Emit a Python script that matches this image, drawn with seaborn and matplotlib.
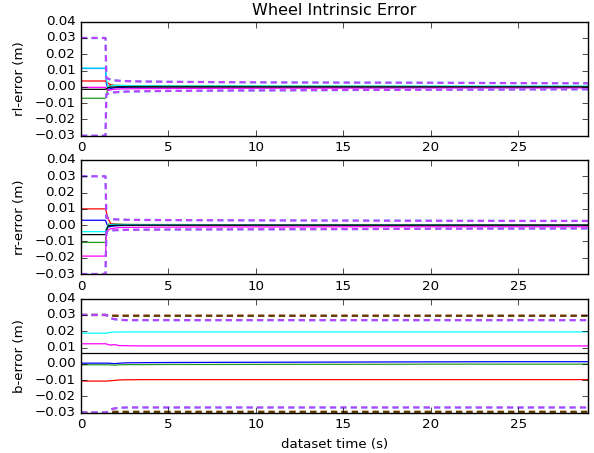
import matplotlib
matplotlib.use('Agg')
import matplotlib.pyplot as plt
import seaborn as sns

# %%
# data (time in s, errors in m)
time_s = [0, 1.40, 1.45, 1.55, 1.70, 1.90, 2.20, 2.60, 3.50, 5.0, 8.0, 12.0, 16.0, 20.0, 25.0, 29.0]

rl_blue = [0.0113, 0.0113, 0.0020, -0.0015, -0.0010, -0.0006, -0.0004, -0.0002, -0.0001, 0.0, 0.0, 0.0, 0.0, 0.0, 0.0, 0.0]
rl_cyan = [0.0115, 0.0115, 0.0050, -0.0010, 0.0005, 0.0008, 0.0008, 0.0007, 0.0006, 0.0005, 0.0005, 0.0004, 0.0004, 0.0004, 0.0004, 0.0004]
rl_red = [0.0036, 0.0036, 0.0030, 0.0022, 0.0012, 0.0008, 0.0005, 0.0004, 0.0003, 0.0002, 0.0002, 0.0001, 0.0001, 0.0001, 0.0001, 0.0001]
rl_green = [-0.0070, -0.0070, -0.0050, 0.0002, 0.0010, 0.0010, 0.0009, 0.0008, 0.0007, 0.0006, 0.0005, 0.0004, 0.0004, 0.0003, 0.0003, 0.0003]
rl_magenta = [-0.0003, -0.0003, -0.0010, -0.0022, -0.0018, -0.0015, -0.0013, -0.0012, -0.0011, -0.0010, -0.0009, -0.0008, -0.0008, -0.0007, -0.0007, -0.0007]
rl_black = [-0.0015, -0.0015, -0.0012, -0.0005, -0.0002, -0.0001, 0.0, 0.0, 0.0, 0.0, 0.0, 0.0, 0.0, 0.0, 0.0, 0.0]
rl_upper = [0.030, 0.030, 0.0055, 0.0050, 0.0044, 0.0040, 0.0037, 0.0035, 0.0033, 0.0031, 0.0029, 0.0027, 0.0026, 0.0025, 0.0023, 0.0022]
rl_lower = [-0.030, -0.030, -0.0045, -0.0042, -0.0038, -0.0034, -0.0031, -0.0029, -0.0027, -0.0025, -0.0023, -0.0021, -0.0019, -0.0018, -0.0016, -0.0015]

rr_red = [0.0100, 0.0100, 0.0080, 0.0040, 0.0010, 0.0005, 0.0004, 0.0003, 0.0002, 0.0002, 0.0001, 0.0001, 0.0001, 0.0001, 0.0001, 0.0001]
rr_blue = [0.0030, 0.0030, 0.0015, -0.0012, -0.0008, -0.0005, -0.0003, -0.0002, -0.0001, 0.0, 0.0, 0.0, 0.0, 0.0, 0.0, 0.0]
rr_cyan = [-0.0040, -0.0040, -0.0020, -0.0002, 0.0004, 0.0004, 0.0003, 0.0003, 0.0002, 0.0002, 0.0001, 0.0001, 0.0001, 0.0001, 0.0000, 0.0000]
rr_black = [-0.0058, -0.0058, -0.0030, -0.0005, -0.0002, -0.0001, 0.0, 0.0, 0.0, 0.0, 0.0, 0.0, 0.0, 0.0, 0.0, 0.0]
rr_green = [-0.0106, -0.0106, -0.0050, 0.0005, 0.0008, 0.0007, 0.0006, 0.0005, 0.0004, 0.0004, 0.0003, 0.0003, 0.0003, 0.0002, 0.0002, 0.0002]
rr_magenta = [-0.0190, -0.0190, -0.0060, -0.0030, -0.0022, -0.0018, -0.0015, -0.0014, -0.0013, -0.0012, -0.0011, -0.0011, -0.0010, -0.0010, -0.0010, -0.0010]
rr_upper = [0.030, 0.030, 0.0045, 0.0042, 0.0038, 0.0036, 0.0034, 0.0033, 0.0032, 0.0031, 0.0030, 0.0029, 0.0028, 0.0027, 0.0026, 0.0026]
rr_lower = [-0.030, -0.030, -0.0040, -0.0036, -0.0033, -0.0031, -0.0030, -0.0029, -0.0028, -0.0027, -0.0026, -0.0025, -0.0024, -0.0022, -0.0021, -0.0020]

b_cyan = [0.0188, 0.0188, 0.0188, 0.0190, 0.0193, 0.0195, 0.0195, 0.0196, 0.0196, 0.0196, 0.0196, 0.0196, 0.0196, 0.0196, 0.0196, 0.0196]
b_magenta = [0.0123, 0.0123, 0.0122, 0.0118, 0.0115, 0.0118, 0.0112, 0.0111, 0.0110, 0.0110, 0.0110, 0.0110, 0.0110, 0.0110, 0.0110, 0.0110]
b_black = [0.0064, 0.0064, 0.0064, 0.0064, 0.0064, 0.0064, 0.0064, 0.0064, 0.0064, 0.0064, 0.0064, 0.0064, 0.0064, 0.0064, 0.0064, 0.0064]
b_blue = [0.0004, 0.0004, 0.0004, 0.0004, 0.0003, 0.0001, 0.0004, 0.0006, 0.0007, 0.0008, 0.0009, 0.0010, 0.0011, 0.0012, 0.0013, 0.0013]
b_green = [-0.0006, -0.0006, -0.0006, -0.0006, -0.0007, -0.0008, -0.0006, -0.0005, -0.0005, -0.0004, -0.0004, -0.0003, -0.0003, -0.0002, -0.0002, -0.0002]
b_red = [-0.0106, -0.0106, -0.0106, -0.0105, -0.0104, -0.0102, -0.0099, -0.0098, -0.0097, -0.0097, -0.0097, -0.0097, -0.0097, -0.0097, -0.0097, -0.0097]
b_upper_outer = [0.0300, 0.0300, 0.0299, 0.0297, 0.0296, 0.0295, 0.0295, 0.0295, 0.0295, 0.0295, 0.0295, 0.0295, 0.0295, 0.0295, 0.0295, 0.0295]
b_upper_inner = [0.0300, 0.0300, 0.0298, 0.0290, 0.0280, 0.0274, 0.0270, 0.0268, 0.0268, 0.0268, 0.0268, 0.0268, 0.0268, 0.0268, 0.0268, 0.0268]
b_lower_inner = [-0.0300, -0.0300, -0.0298, -0.0290, -0.0280, -0.0274, -0.0270, -0.0268, -0.0268, -0.0268, -0.0268, -0.0268, -0.0268, -0.0268, -0.0268, -0.0268]
b_lower_outer = [-0.0300, -0.0300, -0.0299, -0.0297, -0.0296, -0.0295, -0.0295, -0.0295, -0.0295, -0.0295, -0.0295, -0.0295, -0.0295, -0.0295, -0.0295, -0.0295]

y_ticks = [-0.03, -0.02, -0.01, 0.00, 0.01, 0.02, 0.03, 0.04]
x_ticks = [0, 5, 10, 15, 20, 25]

# bright colours like the original
BLUE, GREEN, RED = '#0000ff', '#1f9a1f', '#ff0000'
CYAN, MAGENTA, BLACK = '#00ffff', '#ff00ff', '#000000'

# %%
# old matplotlib look
plt.style.use('classic')
plt.rcParams['figure.facecolor'] = 'white'
plt.rcParams['savefig.facecolor'] = 'white'
plt.rcParams['font.family'] = ['DejaVu Sans']
plt.rcParams['font.size'] = 9.6

fig = plt.figure(figsize=(5.94, 4.53), dpi=100)
ax1 = fig.add_axes([0.1364, 0.7004, 0.8535, 0.2517])
ax2 = fig.add_axes([0.1364, 0.3951, 0.8535, 0.2517])
ax3 = fig.add_axes([0.1364, 0.0890, 0.8535, 0.2517])

solid_lw = 0.9
dash_lw = 1.6
dash = (0, (4.5, 3))


def solid(ax, y, color):
    sns.lineplot(x=time_s, y=y, ax=ax, color=color, linewidth=solid_lw, estimator=None)


def dashed(ax, y, color, alpha=1.0):
    sns.lineplot(x=time_s, y=y, ax=ax, color=color, linewidth=dash_lw,
                 linestyle=dash, alpha=alpha, estimator=None)


# rl panel
solid(ax1, rl_blue, BLUE)
solid(ax1, rl_green, GREEN)
solid(ax1, rl_red, RED)
solid(ax1, rl_cyan, CYAN)
solid(ax1, rl_magenta, MAGENTA)
solid(ax1, rl_black, BLACK)
for bound in (rl_upper, rl_lower):
    dashed(ax1, bound, CYAN)
    dashed(ax1, bound, MAGENTA, alpha=0.75)

# rr panel
solid(ax2, rr_blue, BLUE)
solid(ax2, rr_green, GREEN)
solid(ax2, rr_red, RED)
solid(ax2, rr_cyan, CYAN)
solid(ax2, rr_magenta, MAGENTA)
solid(ax2, rr_black, BLACK)
for bound in (rr_upper, rr_lower):
    dashed(ax2, bound, CYAN)
    dashed(ax2, bound, MAGENTA, alpha=0.75)

# b panel
solid(ax3, b_blue, BLUE)
solid(ax3, b_green, GREEN)
solid(ax3, b_red, RED)
solid(ax3, b_cyan, CYAN)
solid(ax3, b_magenta, MAGENTA)
solid(ax3, b_black, BLACK)
for bound in (b_upper_outer, b_lower_outer):
    dashed(ax3, bound, RED)
    dashed(ax3, bound, '#006400', alpha=0.65)
for bound in (b_upper_inner, b_lower_inner):
    dashed(ax3, bound, CYAN)
    dashed(ax3, bound, MAGENTA, alpha=0.75)

for ax, lab in zip([ax1, ax2, ax3], ['rl-error (m)', 'rr-error (m)', 'b-error (m)']):
    ax.set_xlim(0, 29)
    ax.set_ylim(-0.03, 0.04)
    ax.set_xticks(x_ticks)
    ax.set_yticks(y_ticks)
    ax.set_yticklabels([f'{v:.2f}'.replace('-', '\u2212') for v in y_ticks])
    ax.set_ylabel(lab, labelpad=6)
    ax.set_xlabel('')

ax1.set_title('Wheel Intrinsic Error', fontsize=11.5)
ax3.set_xlabel('dataset time (s)')

fig.savefig('out.png', dpi=100)
